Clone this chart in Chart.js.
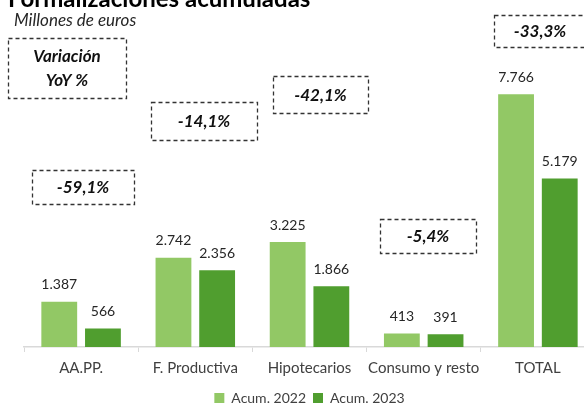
<!DOCTYPE html>
<html>
<head>
<meta charset="utf-8">
<script src="https://cdn.jsdelivr.net/npm/chart.js@4"></script>
<style>
  body { margin: 0; overflow: hidden; background: #fff; }
  #wrap { position: absolute; left: 0; top: 0; width: 600px; height: 415px; }
</style>
</head>
<body>
<div id="wrap"><canvas id="barChart"></canvas></div>
<script>
// datos (millones de euros)
var categorias = ['AA.PP.', 'F. Productiva', 'Hipotecarios', 'Consumo y resto', 'TOTAL'];
var acum2022 = [1387, 2742, 3225, 413, 7766];
var acum2023 = [566, 2356, 1866, 391, 5179];
var variacion = ['-59,1%', '-14,1%', '-42,1%', '-5,4%', '-33,3%'];

// cajas de variacion (posicion en pixeles)
var cajas = [
    { x: 32, y: 170, w: 102, h: 34 },
    { x: 151, y: 102, w: 106, h: 38 },
    { x: 273, y: 76, w: 95, h: 37 },
    { x: 380, y: 219, w: 96, h: 34 },
    { x: 494, y: 15, w: 92, h: 32 }
];

var verdeClaro = '#92c865';
var verdeOscuro = '#509e2f';
var fuente = 'Lato, "Open Sans", sans-serif';

function fmt(n) {
    return String(n).replace(/\B(?=(\d{3})+(?!\d))/g, '.');
}

var etiquetas = {
    id: 'etiquetas',
    afterDatasetsDraw: function (chart) {
        var ctx = chart.ctx;
        ctx.save();
        ctx.font = '14px ' + fuente;
        ctx.fillStyle = '#262626';
        ctx.textAlign = 'center';
        ctx.textBaseline = 'middle';
        chart.data.datasets.forEach(function (ds, i) {
            chart.getDatasetMeta(i).data.forEach(function (bar, j) {
                ctx.fillText(fmt(ds.data[j]), bar.x, bar.y - 17);
            });
        });
        ctx.restore();
    }
};

var textos = {
    id: 'textos',
    afterDraw: function (chart) {
        var ctx = chart.ctx;
        ctx.save();
        // titulo y subtitulo
        ctx.fillStyle = '#000';
        ctx.textAlign = 'left';
        ctx.textBaseline = 'alphabetic';
        ctx.font = 'bold 24px ' + fuente;
        ctx.fillText('Formalizaciones acumuladas', 8, 7);
        ctx.fillStyle = '#262626';
        ctx.font = 'italic 17px ' + fuente;
        ctx.fillText('Millones de euros', 14, 26);

        // cajas punteadas
        ctx.strokeStyle = '#333';
        ctx.lineWidth = 1.3;
        ctx.setLineDash([4, 3]);
        ctx.textAlign = 'center';
        ctx.textBaseline = 'middle';
        ctx.font = 'italic bold 17px ' + fuente;
        ctx.fillStyle = '#111';
        ctx.strokeRect(8.5, 38.5, 118, 60);
        ctx.fillText('Variación', 67, 57);
        ctx.fillText('YoY %', 67, 81);
        cajas.forEach(function (c, i) {
            ctx.strokeRect(c.x + 0.5, c.y + 0.5, c.w, c.h);
            ctx.fillText(variacion[i], c.x + c.w / 2, c.y + c.h / 2 + 1);
        });
        ctx.restore();
    }
};

var barChart = new Chart(document.getElementById('barChart').getContext('2d'), {
    type: 'bar',
    data: {
        labels: categorias,
        datasets: [{
            label: 'Acum. 2022',
            data: acum2022,
            backgroundColor: verdeClaro,
            borderWidth: 0,
            categoryPercentage: 0.765,
            barPercentage: 0.82
        }, {
            label: 'Acum. 2023',
            data: acum2023,
            backgroundColor: verdeOscuro,
            borderWidth: 0,
            categoryPercentage: 0.765,
            barPercentage: 0.82
        }]
    },
    options: {
        responsive: true,
        maintainAspectRatio: false,
        animation: false,
        layout: {
            padding: { left: 24, right: 5, top: 54, bottom: 0 }
        },
        scales: {
            x: {
                grid: {
                    display: true,
                    drawOnChartArea: false,
                    offset: true,
                    tickLength: 5,
                    color: '#d9d9d9'
                },
                border: { color: '#d9d9d9', width: 1.5 },
                ticks: {
                    color: '#404040',
                    padding: 7,
                    maxRotation: 0,
                    minRotation: 0,
                    autoSkip: false,
                    font: { family: fuente, size: 15 }
                }
            },
            y: {
                display: false,
                min: 0,
                max: 9000
            }
        },
        plugins: {
            legend: {
                position: 'bottom',
                labels: {
                    boxWidth: 10,
                    boxHeight: 10,
                    padding: 7,
                    color: '#404040',
                    font: { family: fuente, size: 14 }
                }
            },
            tooltip: { enabled: false }
        }
    },
    plugins: [etiquetas, textos]
});
</script>
</body>
</html>
